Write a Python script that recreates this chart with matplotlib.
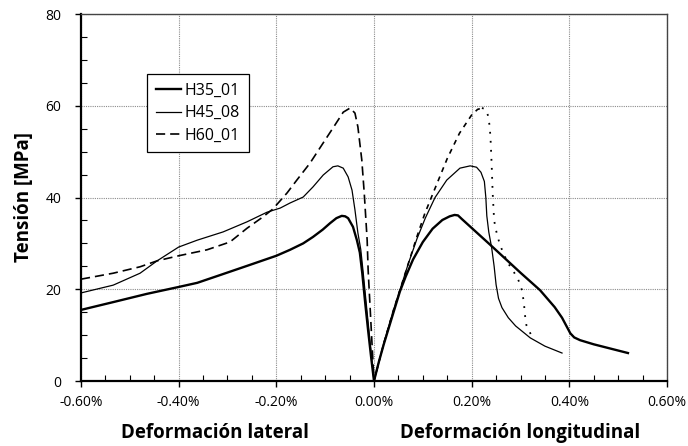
import matplotlib
matplotlib.use("Agg")
import matplotlib.pyplot as plt
from matplotlib.ticker import MultipleLocator, PercentFormatter

plt.rcParams['font.family'] = ['Open Sans', 'DejaVu Sans']
plt.rcParams['axes.unicode_minus'] = False

# strain in %, stress in MPa
h35_lat_x = [-0.60, -0.534, -0.465, -0.40, -0.362, -0.315, -0.26, -0.20, -0.172, -0.145, -0.125, -0.105, -0.09, -0.077, -0.066, -0.059,
             -0.053, -0.043, -0.035, -0.029, -0.024, -0.018, -0.012, -0.006, 0.0]
h35_lat_y = [15.5, 17.2, 19.0, 20.5, 21.4, 23.1, 25.1, 27.3, 28.6, 30.0, 31.4, 33.0, 34.4, 35.5, 36.0, 35.9,
             35.5, 33.6, 30.7, 28.0, 23.5, 17.0, 11.0, 5.3, 0.0]
h35_lon_x = [0.0, 0.01, 0.02, 0.03, 0.04, 0.053, 0.065, 0.08, 0.10, 0.12, 0.14, 0.155, 0.165, 0.172, 0.18,
             0.241, 0.30, 0.34, 0.37, 0.385, 0.395, 0.402, 0.41, 0.422, 0.45, 0.52]
h35_lon_y = [0.0, 4.2, 8.0, 11.5, 15.0, 19.5, 22.8, 26.5, 30.3, 33.2, 35.1, 35.9, 36.2, 36.1, 35.3,
             29.4, 23.6, 19.8, 16.1, 13.8, 11.8, 10.4, 9.5, 8.9, 8.0, 6.1]

h45_lat_x = [-0.60, -0.534, -0.479, -0.444, -0.40, -0.362, -0.309, -0.26, -0.219, -0.192, -0.172, -0.145, -0.125, -0.104, -0.084,
             -0.074, -0.063, -0.053, -0.045, -0.039, -0.033, -0.027, -0.022, -0.016, -0.008, 0.0]
h45_lat_y = [19.2, 20.9, 23.5, 26.2, 29.2, 30.7, 32.5, 34.7, 36.8, 37.7, 38.8, 40.1, 42.3, 44.9, 46.7,
             46.9, 46.4, 44.5, 41.6, 37.3, 32.3, 28.6, 23.5, 17.0, 8.5, 0.0]
h45_lon_x = [0.0, 0.02, 0.04, 0.053, 0.07, 0.088, 0.105, 0.125, 0.149, 0.176, 0.197, 0.21, 0.219, 0.226, 0.229,
             0.231, 0.235, 0.241, 0.246, 0.25, 0.255, 0.262, 0.275, 0.29, 0.32, 0.35, 0.385]
h45_lon_y = [0.0, 8.2, 15.5, 19.8, 25.5, 31.0, 35.5, 40.0, 43.8, 46.4, 46.9, 46.6, 45.5, 43.5, 40.0,
             36.0, 32.5, 29.0, 25.0, 21.0, 18.0, 16.0, 13.8, 12.0, 9.4, 7.6, 6.1]

h60_lat_x = [-0.60, -0.534, -0.479, -0.444, -0.40, -0.342, -0.295, -0.26, -0.227, -0.207, -0.178, -0.158, -0.131, -0.104, -0.08,
             -0.063, -0.049, -0.039, -0.033, -0.025, -0.02, -0.014, -0.012, -0.008, -0.004, 0.0]
h60_lat_y = [22.2, 23.5, 24.9, 26.2, 27.3, 28.6, 30.3, 33.3, 35.8, 37.5, 41.0, 43.8, 47.5, 51.9, 55.8,
             58.6, 59.5, 58.4, 55.4, 48.2, 41.0, 30.7, 24.2, 16.1, 8.0, 0.0]
h60_lon_x = [0.0, 0.02, 0.04, 0.053, 0.07, 0.088, 0.104, 0.125, 0.15, 0.175, 0.20, 0.212, 0.221]
h60_lon_y = [0.0, 8.2, 15.5, 19.8, 25.5, 31.5, 36.5, 42.0, 48.5, 54.0, 58.0, 59.2, 59.5]
h60_post_x = [0.221, 0.228, 0.233, 0.237, 0.239, 0.241, 0.243, 0.246, 0.25, 0.257, 0.265, 0.275, 0.285, 0.295,
              0.303, 0.307, 0.309, 0.312, 0.321]
h60_post_y = [59.5, 59.3, 58.0, 55.5, 52.0, 47.0, 41.0, 35.0, 32.8, 30.0, 27.8, 25.6, 24.0, 22.2,
              19.8, 17.0, 14.5, 12.2, 10.2]

fig = plt.figure(figsize=(6.88, 4.46), dpi=100)
ax = fig.add_axes([0.1177, 0.1457, 0.8518, 0.8229])

common = dict(color='black', solid_joinstyle='round', dash_joinstyle='round')
ax.plot(h35_lat_x, h35_lat_y, lw=1.7, label='H35_01', **common)
ax.plot(h35_lon_x, h35_lon_y, lw=1.7, **common)
ax.plot(h45_lat_x, h45_lat_y, lw=0.9, label='H45_08', **common)
ax.plot(h45_lon_x, h45_lon_y, lw=0.9, **common)
ax.plot(h60_lat_x, h60_lat_y, lw=1.2, dashes=(5.5, 3), label='H60_01', **common)
ax.plot(h60_lon_x, h60_lon_y, lw=1.2, dashes=(3, 3), **common)
ax.plot(h60_post_x, h60_post_y, lw=1.3, dashes=(1, 4), **common)

ax.set_xlim(-0.6, 0.6)
ax.set_ylim(0, 80)
ax.xaxis.set_major_locator(MultipleLocator(0.2))
ax.xaxis.set_minor_locator(MultipleLocator(0.05))
ax.yaxis.set_major_locator(MultipleLocator(20))
ax.yaxis.set_minor_locator(MultipleLocator(5))
ax.xaxis.set_major_formatter(PercentFormatter(decimals=2))
ax.tick_params(which='major', direction='out', length=4, width=1, labelsize=10)
ax.tick_params(axis='x', which='major', pad=6)
ax.tick_params(axis='y', which='major', pad=10)
ax.tick_params(which='minor', direction='in', length=4, width=0.8)
ax.grid(which='major', color='#8c8c8c', linestyle=(0, (1, 1)), linewidth=0.8)

for side in ['left', 'bottom']:
    ax.spines[side].set_linewidth(1.6)
for side in ['top', 'right']:
    ax.spines[side].set_linewidth(1.0)
    ax.spines[side].set_color('#444444')

ax.set_ylabel('Tensión [MPa]', fontsize=13.5, fontweight='bold')
ax.yaxis.set_label_coords(-0.08, 0.5)
fig.text(0.3125, 0.018, 'Deformación lateral', ha='center', fontsize=13.5, fontweight='bold')
fig.text(0.756, 0.018, 'Deformación longitudinal', ha='center', fontsize=13.5, fontweight='bold')

leg = ax.legend(loc='upper left', bbox_to_anchor=(0.1126, 0.8365), borderaxespad=0,
                fancybox=False, edgecolor='black', framealpha=1, fontsize=11.5,
                handlelength=1.6, handletextpad=0.2, borderpad=0.55, labelspacing=0.4)
leg.get_frame().set_linewidth(0.9)

fig.savefig('out.png', dpi=100)
